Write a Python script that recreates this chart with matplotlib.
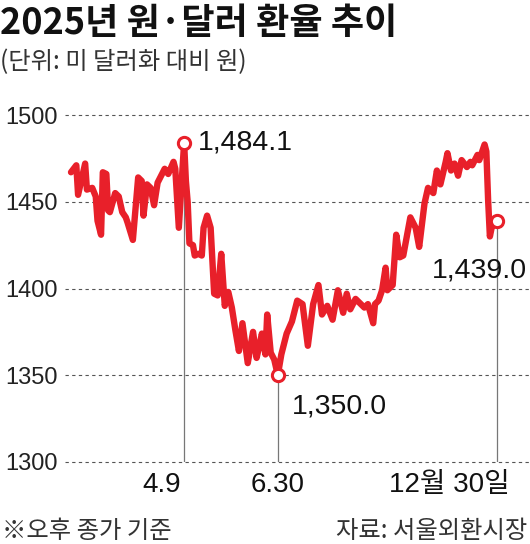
import matplotlib
matplotlib.use("Agg")
import matplotlib.pyplot as plt
import numpy as np

plt.rcParams['font.family'] = ['Noto Sans CJK KR', 'DejaVu Sans']
NUM_FONT = ['Liberation Sans', 'Noto Sans CJK KR', 'DejaVu Sans']

# 거래일 순번(2025-01-02 = 0, 12-30 = 241)과 종가
day = [0, 3, 4, 8, 9, 12, 14, 15, 17, 18, 20, 21, 22, 25, 27, 29, 31, 32, 35, 38,
       40, 41, 43, 45, 47, 49, 53, 55, 58, 59, 61, 64, 65, 66, 67, 69, 70, 72, 74, 75,
       77, 79, 81, 83, 85, 87, 89, 91, 93, 95, 97, 100, 103, 105, 107, 108, 110, 111, 113, 115,
       117, 119, 122, 125, 128, 131, 134, 137, 140, 142, 145, 148, 151, 154, 156, 158, 161, 163, 166, 168,
       171, 172, 174, 176, 178, 179, 182, 184, 186, 188, 190, 192, 195, 197, 200, 202, 205, 207, 209, 212,
       213, 215, 217, 219, 221, 224, 226, 227, 230, 231, 234, 235, 236, 237, 238, 241]
rate = [1467, 1471, 1454, 1472, 1457, 1458, 1453, 1439, 1431, 1467, 1466, 1445, 1444, 1455, 1453, 1444, 1441, 1438, 1428, 1464,
        1462, 1442, 1460, 1458, 1448, 1461, 1469, 1466, 1473, 1469, 1435, 1484.1, 1462, 1450, 1426, 1425, 1419, 1420, 1419, 1435,
        1442, 1435, 1397, 1396, 1420, 1390, 1398, 1389, 1376, 1364, 1380, 1357, 1375, 1360, 1369, 1374, 1362, 1385, 1363, 1359,
        1350.0, 1362, 1374, 1381, 1393, 1391, 1367, 1391, 1402, 1385, 1390, 1382, 1399, 1386, 1397, 1388, 1394, 1392, 1389, 1391,
        1380, 1391, 1393, 1399, 1412, 1399, 1402, 1431, 1418, 1419, 1430, 1441, 1435, 1424, 1449, 1458, 1455, 1468, 1460, 1473,
        1478, 1468, 1472, 1465, 1474, 1470, 1473, 1471, 1477, 1474, 1483, 1479, 1451, 1430, 1435, 1439.0]

mark_day = [64, 117, 241]
mark_label = ['4.9', '6.30', '12월 30일']
yticks = [1300, 1350, 1400, 1450, 1500]

RED = '#e8202a'
W, H = 530, 544


def fy(py):
    return 1 - py / H


fig = plt.figure(figsize=(W / 100, H / 100), dpi=100)
ax = fig.add_axes([65 / W, fy(462), 465 / W, (462 - 115) / H])
ax.set_xlim(-3.4, 259.7)
ax.set_ylim(1300, 1500)
for s in ax.spines.values():
    s.set_visible(False)
ax.set_xticks([])
ax.set_yticks(yticks)
ax.set_yticklabels([str(t) for t in yticks], family=NUM_FONT, fontsize=17, color='#222')
ax.tick_params(axis='y', length=0, pad=5.5)

# 점선 눈금선
for t in yticks:
    ax.axhline(t, color='#555', lw=0.8, ls=(0, (3, 3)), zorder=1, clip_on=False)

day_arr = np.array(day)
rate_arr = np.array(rate)
mark_val = [rate_arr[day_arr == d][0] for d in mark_day]

ax.vlines(mark_day, 1300, mark_val, color='#777', lw=0.9, zorder=2)
ax.plot(day_arr, rate_arr, color=RED, lw=4.6, solid_joinstyle='round',
        solid_capstyle='round', zorder=3, clip_on=False)
ax.plot(mark_day, mark_val, 'o', ms=8.8, mfc='white', mec=RED, mew=2.2,
        zorder=4, clip_on=False)

# 값 표시
offsets = [(10, -5.3, 'left'), (10, -27.4, 'left'), (21.6, -41, 'right')]
for d, v, (dx, dy, ha) in zip(mark_day, mark_val, offsets):
    ax.annotate(f'{v:,.1f}', xy=(d, v), xytext=(dx, dy), textcoords='offset points',
                ha=ha, va='baseline', fontsize=20.5, family=NUM_FONT, color='#111',
                annotation_clip=False)

# x축 날짜 표시
x_off = [(-2, 'right'), (0, 'center'), (9.4, 'right')]
for d, lab, (dx, ha) in zip(mark_day, mark_label, x_off):
    ax.annotate(lab, xy=(d, 1300), xytext=(dx, -21.6), textcoords='offset points',
                ha=ha, va='baseline', fontsize=20, family=NUM_FONT, color='#111',
                annotation_clip=False)

fig.text(0, fy(34), '2025년 원·달러 환율 추이', fontsize=26, fontweight='heavy',
         ha='left', va='baseline', color='#111')
fig.text(0, fy(69), '(단위: 미 달러화 대비 원)', fontsize=17.5, fontweight='light',
         ha='left', va='baseline', color='#333')
fig.text(2 / W, fy(538), '※오후 종가 기준', fontsize=17.5, fontweight='light',
         ha='left', va='baseline', color='#333')
fig.text(527 / W, fy(538), '자료: 서울외환시장', fontsize=17.5, fontweight='light',
         ha='right', va='baseline', color='#333')

fig.savefig('out.png', dpi=100, facecolor='white')
